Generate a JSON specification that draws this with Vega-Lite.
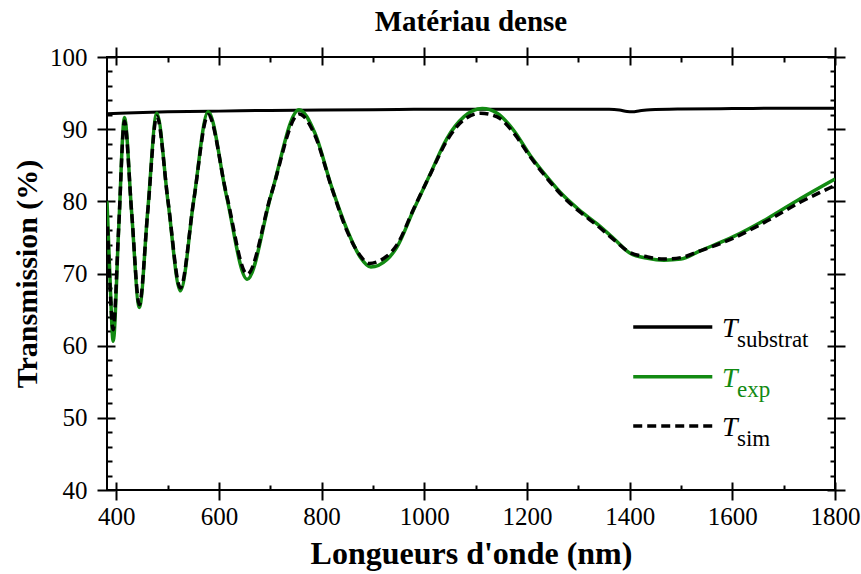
{
  "$schema": "https://vega.github.io/schema/vega-lite/v6.json",
  "width": 728,
  "height": 433,
  "autosize": "none",
  "padding": {"left": 107, "top": 57, "right": 26, "bottom": 84},
  "background": "white",
  "title": {"text": "Matériau dense", "font": "Liberation Serif", "fontSize": 29, "fontWeight": "bold", "anchor": "middle", "offset": 0, "dy": 15, "baseline": "alphabetic", "color": "#000"},
  "config": {
    "view": {"stroke": "#000", "strokeWidth": 2},
    "axis": {"grid": false, "labelFont": "Liberation Serif", "titleFont": "Liberation Serif", "labelColor": "#000", "titleColor": "#000", "tickColor": "#000", "tickWidth": 2, "labelFlush": false, "labelOverlap": false, "labelBound": false, "format": "d"}
  },
  "datasets": {
    "substrat": [
      {"wavelength": 382, "T": 92.15}, {"wavelength": 420, "T": 92.25}, {"wavelength": 500, "T": 92.4}, {"wavelength": 600, "T": 92.5},
      {"wavelength": 700, "T": 92.6}, {"wavelength": 800, "T": 92.65}, {"wavelength": 900, "T": 92.7}, {"wavelength": 1000, "T": 92.75},
      {"wavelength": 1100, "T": 92.75}, {"wavelength": 1200, "T": 92.75}, {"wavelength": 1300, "T": 92.75}, {"wavelength": 1360, "T": 92.75},
      {"wavelength": 1380, "T": 92.65}, {"wavelength": 1395, "T": 92.45}, {"wavelength": 1405, "T": 92.4}, {"wavelength": 1420, "T": 92.55},
      {"wavelength": 1440, "T": 92.7}, {"wavelength": 1500, "T": 92.8}, {"wavelength": 1600, "T": 92.85}, {"wavelength": 1700, "T": 92.9},
      {"wavelength": 1800, "T": 92.9}
    ],
    "exp": [
      {"wavelength": 382, "T": 80.0}, {"wavelength": 388, "T": 69.0}, {"wavelength": 394, "T": 60.6}, {"wavelength": 404.7, "T": 76.1},
      {"wavelength": 416, "T": 91.6}, {"wavelength": 430, "T": 78.45}, {"wavelength": 445, "T": 65.3}, {"wavelength": 461.4, "T": 78.75},
      {"wavelength": 479, "T": 92.2}, {"wavelength": 500.9, "T": 79.9}, {"wavelength": 525, "T": 67.6}, {"wavelength": 550.7, "T": 80.0},
      {"wavelength": 579, "T": 92.4}, {"wavelength": 614.6, "T": 80.8}, {"wavelength": 655, "T": 69.2}, {"wavelength": 701.9, "T": 80.95},
      {"wavelength": 756, "T": 92.7}, {"wavelength": 786.7, "T": 89.5}, {"wavelength": 820, "T": 81.9}, {"wavelength": 850, "T": 76.0},
      {"wavelength": 875, "T": 72.3}, {"wavelength": 896, "T": 70.9}, {"wavelength": 927, "T": 71.9}, {"wavelength": 947, "T": 73.7},
      {"wavelength": 979, "T": 78.8}, {"wavelength": 1012, "T": 83.85}, {"wavelength": 1044, "T": 88.7}, {"wavelength": 1077, "T": 91.7},
      {"wavelength": 1113, "T": 92.85}, {"wavelength": 1142, "T": 92.2}, {"wavelength": 1174, "T": 89.85}, {"wavelength": 1206, "T": 86.4},
      {"wavelength": 1239, "T": 83.4}, {"wavelength": 1271, "T": 80.8}, {"wavelength": 1302, "T": 78.8}, {"wavelength": 1336, "T": 76.9},
      {"wavelength": 1369, "T": 74.85}, {"wavelength": 1401, "T": 72.8}, {"wavelength": 1435, "T": 72.1}, {"wavelength": 1467, "T": 71.85},
      {"wavelength": 1500, "T": 72.0}, {"wavelength": 1536, "T": 73.1}, {"wavelength": 1602, "T": 75.1}, {"wavelength": 1668, "T": 77.6},
      {"wavelength": 1733, "T": 80.4}, {"wavelength": 1800, "T": 83.1}
    ],
    "sim": [
      {"wavelength": 383, "T": 76.5}, {"wavelength": 388, "T": 68.0}, {"wavelength": 394, "T": 62.2}, {"wavelength": 404.7, "T": 76.3},
      {"wavelength": 416, "T": 91.1}, {"wavelength": 430, "T": 78.5}, {"wavelength": 445, "T": 65.7}, {"wavelength": 461.4, "T": 78.6},
      {"wavelength": 479, "T": 91.8}, {"wavelength": 500.9, "T": 80.0}, {"wavelength": 525, "T": 68.0}, {"wavelength": 550.7, "T": 80.0},
      {"wavelength": 579, "T": 92.0}, {"wavelength": 614.6, "T": 81.0}, {"wavelength": 655, "T": 69.9}, {"wavelength": 701.9, "T": 81.0},
      {"wavelength": 756, "T": 92.1}, {"wavelength": 786.7, "T": 89.2}, {"wavelength": 820, "T": 81.8}, {"wavelength": 850, "T": 75.8},
      {"wavelength": 875, "T": 72.5}, {"wavelength": 892, "T": 71.4}, {"wavelength": 927, "T": 72.4}, {"wavelength": 947, "T": 74.0},
      {"wavelength": 979, "T": 78.9}, {"wavelength": 1012, "T": 83.8}, {"wavelength": 1044, "T": 88.4}, {"wavelength": 1077, "T": 91.3},
      {"wavelength": 1110, "T": 92.2}, {"wavelength": 1142, "T": 91.7}, {"wavelength": 1174, "T": 89.5}, {"wavelength": 1206, "T": 86.2},
      {"wavelength": 1239, "T": 83.2}, {"wavelength": 1271, "T": 80.6}, {"wavelength": 1302, "T": 78.6}, {"wavelength": 1336, "T": 76.7},
      {"wavelength": 1369, "T": 74.7}, {"wavelength": 1401, "T": 72.9}, {"wavelength": 1435, "T": 72.3}, {"wavelength": 1467, "T": 72.0},
      {"wavelength": 1500, "T": 72.2}, {"wavelength": 1536, "T": 73.1}, {"wavelength": 1602, "T": 74.9}, {"wavelength": 1668, "T": 77.3},
      {"wavelength": 1733, "T": 79.9}, {"wavelength": 1800, "T": 82.2}
    ]
  },
  "resolve": {"axis": {"x": "independent", "y": "independent"}},
  "layer": [
    {
      "data": {"name": "substrat"},
      "mark": {"type": "line", "color": "#000", "strokeWidth": 3, "interpolate": "monotone", "clip": true},
      "encoding": {
        "x": {"field": "wavelength", "type": "quantitative", "scale": {"domain": [382, 1800], "nice": false, "zero": false},
          "axis": {"orient": "bottom", "values": [400, 600, 800, 1000, 1200, 1400, 1600, 1800], "domain": false, "ticks": false, "tickSize": 0, "labelPadding": 14, "labelFontSize": 25, "title": "Longueurs d'onde (nm)", "titleFontSize": 32, "titleFontWeight": "bold", "titlePadding": 9}},
        "y": {"field": "T", "type": "quantitative", "scale": {"domain": [40, 100], "nice": false, "zero": false},
          "axis": {"orient": "left", "values": [40, 50, 60, 70, 80, 90, 100], "domain": false, "ticks": false, "tickSize": 0, "labelPadding": 20, "labelFontSize": 25, "title": "Transmission (%)", "titleFontSize": 30, "titleFontWeight": "bold", "titlePadding": 7}}
      }
    },
    {
      "data": {"name": "exp"},
      "mark": {"type": "line", "color": "#128a12", "strokeWidth": 3.5, "interpolate": "monotone", "clip": true},
      "encoding": {
        "x": {"field": "wavelength", "type": "quantitative",
          "axis": {"orient": "bottom", "offset": -8, "values": [400, 600, 800, 1000, 1200, 1400, 1600, 1800], "domain": false, "labels": false, "tickSize": 18, "title": null}},
        "y": {"field": "T", "type": "quantitative",
          "axis": {"orient": "left", "offset": -8, "values": [40, 50, 60, 70, 80, 90, 100], "domain": false, "labels": false, "tickSize": 18, "title": null}}
      }
    },
    {
      "data": {"name": "sim"},
      "mark": {"type": "line", "color": "#000", "strokeWidth": 3.5, "strokeDash": [9, 5], "interpolate": "monotone", "clip": true},
      "encoding": {
        "x": {"field": "wavelength", "type": "quantitative",
          "axis": {"orient": "top", "offset": -8, "values": [400, 600, 800, 1000, 1200, 1400, 1600, 1800], "domain": false, "labels": false, "tickSize": 18, "title": null}},
        "y": {"field": "T", "type": "quantitative",
          "axis": {"orient": "right", "offset": -8, "values": [40, 50, 60, 70, 80, 90, 100], "domain": false, "labels": false, "tickSize": 18, "title": null}}
      }
    },
    {
      "data": {"values": [{}]},
      "mark": {"type": "rule", "color": "#000", "strokeWidth": 3.5},
      "encoding": {
        "x": {"datum": 1407, "type": "quantitative",
          "axis": {"orient": "bottom", "offset": -5, "values": [500, 700, 900, 1100, 1300, 1500, 1700], "domain": false, "labels": false, "tickSize": 5, "title": null}},
        "x2": {"datum": 1561},
        "y": {"datum": 62.6, "type": "quantitative",
          "axis": {"orient": "left", "offset": -5, "values": [42, 44, 46, 48, 52, 54, 56, 58, 62, 64, 66, 68, 72, 74, 76, 78, 82, 84, 86, 88, 92, 94, 96, 98], "domain": false, "labels": false, "tickSize": 5, "title": null}}
      }
    },
    {
      "data": {"values": [{}]},
      "mark": {"type": "rule", "color": "#128a12", "strokeWidth": 3.5},
      "encoding": {
        "x": {"datum": 1407, "type": "quantitative",
          "axis": {"orient": "top", "offset": -5, "values": [500, 700, 900, 1100, 1300, 1500, 1700], "domain": false, "labels": false, "tickSize": 5, "title": null}},
        "x2": {"datum": 1561},
        "y": {"datum": 55.7, "type": "quantitative",
          "axis": {"orient": "right", "offset": -5, "values": [42, 44, 46, 48, 52, 54, 56, 58, 62, 64, 66, 68, 72, 74, 76, 78, 82, 84, 86, 88, 92, 94, 96, 98], "domain": false, "labels": false, "tickSize": 5, "title": null}}
      }
    },
    {
      "data": {"values": [{}]},
      "mark": {"type": "rule", "color": "#000", "strokeWidth": 3.5, "strokeDash": [9, 5]},
      "encoding": {
        "x": {"datum": 1407, "type": "quantitative", "axis": null},
        "x2": {"datum": 1561},
        "y": {"datum": 48.87, "type": "quantitative", "axis": null}
      }
    },
    {
      "data": {"values": [{}]},
      "mark": {"type": "text", "text": "T", "font": "Liberation Serif", "fontStyle": "italic", "fontSize": 28, "align": "left", "baseline": "alphabetic", "color": "#000"},
      "encoding": {"x": {"datum": 1580, "type": "quantitative", "axis": null}, "y": {"datum": 61.22, "type": "quantitative", "axis": null}}
    },
    {
      "data": {"values": [{}]},
      "mark": {"type": "text", "text": "substrat", "font": "Liberation Serif", "fontSize": 23, "align": "left", "baseline": "alphabetic", "color": "#000"},
      "encoding": {"x": {"datum": 1609, "type": "quantitative", "axis": null}, "y": {"datum": 59.83, "type": "quantitative", "axis": null}}
    },
    {
      "data": {"values": [{}]},
      "mark": {"type": "text", "text": "T", "font": "Liberation Serif", "fontStyle": "italic", "fontSize": 28, "align": "left", "baseline": "alphabetic", "color": "#128a12"},
      "encoding": {"x": {"datum": 1580, "type": "quantitative", "axis": null}, "y": {"datum": 54.29, "type": "quantitative", "axis": null}}
    },
    {
      "data": {"values": [{}]},
      "mark": {"type": "text", "text": "exp", "font": "Liberation Serif", "fontSize": 23, "align": "left", "baseline": "alphabetic", "color": "#128a12"},
      "encoding": {"x": {"datum": 1609, "type": "quantitative", "axis": null}, "y": {"datum": 52.91, "type": "quantitative", "axis": null}}
    },
    {
      "data": {"values": [{}]},
      "mark": {"type": "text", "text": "T", "font": "Liberation Serif", "fontStyle": "italic", "fontSize": 28, "align": "left", "baseline": "alphabetic", "color": "#000"},
      "encoding": {"x": {"datum": 1580, "type": "quantitative", "axis": null}, "y": {"datum": 47.47, "type": "quantitative", "axis": null}}
    },
    {
      "data": {"values": [{}]},
      "mark": {"type": "text", "text": "sim", "font": "Liberation Serif", "fontSize": 23, "align": "left", "baseline": "alphabetic", "color": "#000"},
      "encoding": {"x": {"datum": 1609, "type": "quantitative", "axis": null}, "y": {"datum": 46.08, "type": "quantitative", "axis": null}}
    }
  ]
}
